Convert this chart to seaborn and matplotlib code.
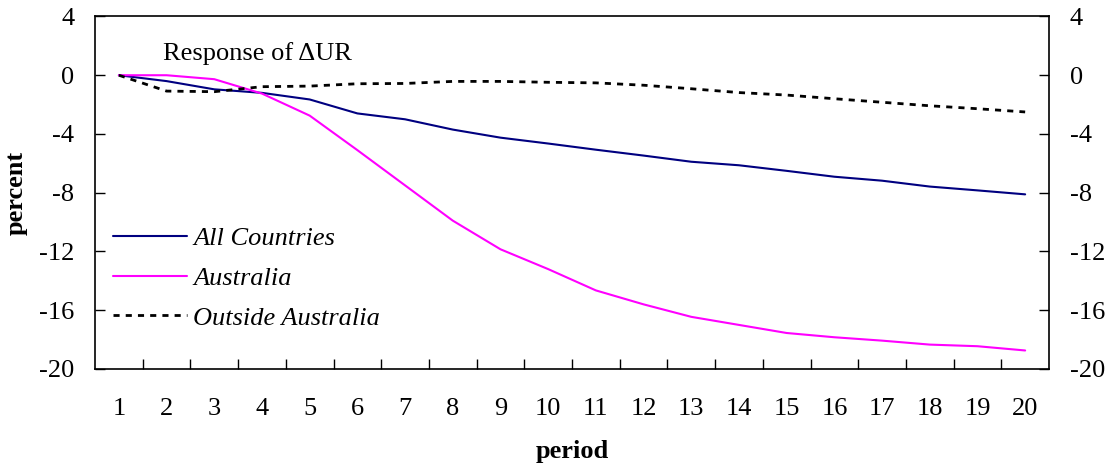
import numpy as np
import pandas as pd
import matplotlib
matplotlib.use('Agg')
import matplotlib.pyplot as plt
import seaborn as sns

periods = list(range(1, 21))
all_countries = [0, -0.40, -0.96, -1.20, -1.65, -2.60, -3.00, -3.70, -4.25, -4.65,
                 -5.07, -5.47, -5.89, -6.13, -6.51, -6.91, -7.18, -7.58, -7.84, -8.11]
australia = [0, 0, -0.27, -1.25, -2.75, -5.10, -7.50, -9.90, -11.85, -13.20,
             -14.65, -15.60, -16.45, -17.00, -17.55, -17.84, -18.07, -18.34, -18.45, -18.74]
outside_australia = [0, -1.08, -1.12, -0.78, -0.74, -0.58, -0.56, -0.42, -0.42, -0.48,
                     -0.52, -0.68, -0.92, -1.18, -1.35, -1.60, -1.84, -2.08, -2.28, -2.50]
series_names = ['All Countries', 'Australia', 'Outside Australia']
y_ticks = list(range(-20, 5, 4))

sns.set_theme(style='white')
plt.rcParams['font.family'] = ['Liberation Serif', 'DejaVu Serif']
plt.rcParams['axes.unicode_minus'] = False
plt.rcParams['text.color'] = 'black'
plt.rcParams['axes.labelcolor'] = 'black'
plt.rcParams['xtick.color'] = 'black'
plt.rcParams['ytick.color'] = 'black'

fs = 19

fig, ax = plt.subplots(figsize=(11.09, 4.71), dpi=100)
plt.subplots_adjust(left=0.0857, right=0.9459, top=0.965, bottom=0.2166)

sns.lineplot(x=periods, y=all_countries, ax=ax, color='#000080', linewidth=1.5,
             label=series_names[0])
sns.lineplot(x=periods, y=australia, ax=ax, color='#FF00FF', linewidth=1.5,
             label=series_names[1])
sns.lineplot(x=periods, y=outside_australia, ax=ax, color='black', linewidth=2.0,
             linestyle=(0, (2.2, 2.2)), label=series_names[2])

ax.set_xlim(0.5, 20.5)
ax.set_ylim(-20, 4)

ax.set_xticks(periods)
ax.set_xticklabels([str(p) for p in periods], fontsize=fs)
ax.set_xticks([p + 0.5 for p in periods[:-1]], minor=True)
ax.tick_params(axis='x', which='major', length=0, pad=21)
ax.tick_params(axis='x', which='minor', direction='in', length=7, width=1, color='black', bottom=True)

ax.set_yticks(y_ticks)
ax.set_yticklabels([str(v) for v in y_ticks], fontsize=fs)
ax.tick_params(axis='y', which='major', direction='in', length=7, width=1, color='black',
               left=True, right=True, labelleft=True, labelright=True, pad=15)

for s in ax.spines.values():
    s.set_visible(True)
    s.set_color('black')
    s.set_linewidth(1.2)

ax.set_xlabel('period', fontsize=fs, fontweight='bold', labelpad=14)
ax.set_ylabel('percent', fontsize=fs, fontweight='bold', labelpad=8)

ax.text(1.93, 1.48, 'Response of \u0394UR', fontsize=fs, ha='left', va='center')

ax.legend(loc='center left', bbox_to_anchor=(0.019, 0.258), frameon=False,
          prop={'family': ['Liberation Serif'], 'style': 'italic', 'size': fs},
          handlelength=2.8, handletextpad=0.23, labelspacing=0.62,
          borderpad=0, borderaxespad=0)

fig.savefig('out.png', dpi=100)
